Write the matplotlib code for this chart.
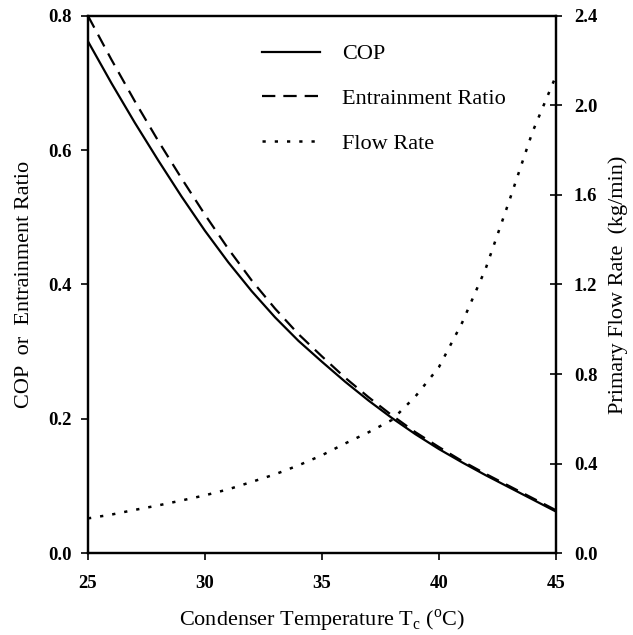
import matplotlib
matplotlib.use('Agg')
import matplotlib.pyplot as plt
from matplotlib.lines import Line2D

plt.rcParams['font.family'] = ['Liberation Serif', 'DejaVu Serif']
plt.rcParams['mathtext.fontset'] = 'custom'
plt.rcParams['mathtext.rm'] = 'Liberation Serif'

# condenser temperature, deg C
t_cond = [25, 26, 27, 28, 29, 30, 31, 32, 33, 34, 35,
          36, 37, 38, 39, 40, 41, 42, 43, 44, 45]

cop = [0.762, 0.700, 0.641, 0.585, 0.531, 0.480, 0.433, 0.390, 0.351, 0.316, 0.285,
       0.255, 0.227, 0.201, 0.177, 0.155, 0.135, 0.116, 0.098, 0.080, 0.062]

entrainment = [0.800, 0.735, 0.673, 0.614, 0.558, 0.504, 0.453, 0.406, 0.364, 0.326, 0.293,
               0.261, 0.232, 0.205, 0.180, 0.158, 0.137, 0.118, 0.100, 0.082, 0.064]

# primary flow rate, kg/min
flow_rate = [0.155, 0.172, 0.193, 0.213, 0.235, 0.258, 0.285, 0.318, 0.352, 0.392, 0.437,
             0.490, 0.540, 0.595, 0.700, 0.830, 1.030, 1.270, 1.570, 1.880, 2.130]

x_ticks = [25, 30, 35, 40, 45]
left_ticks = [0.0, 0.2, 0.4, 0.6, 0.8]
right_ticks = [0.0, 0.4, 0.8, 1.2, 1.6, 2.0, 2.4]

solid = '-'
dashed = (0, (6.0, 3.6))
dotted = (0, (1.3, 3.6))

fig = plt.figure(figsize=(6.33, 6.35), dpi=100)
ax = fig.add_axes([0.139, 0.129, 0.739, 0.846])
ax2 = ax.twinx()

lw = 1.6
ax.plot(t_cond, cop, color='black', lw=lw, ls=solid)
ax.plot(t_cond, entrainment, color='black', lw=lw, ls=dashed)
ax2.plot(t_cond, flow_rate, color='black', lw=1.8, ls=dotted)

ax.set_xlim(25, 45)
ax.set_ylim(0, 0.8)
ax2.set_ylim(0, 2.4)

ax.set_xticks(x_ticks)
ax.set_yticks(left_ticks)
ax.set_yticklabels(['%.1f' % v for v in left_ticks])
ax2.set_yticks(right_ticks)
ax2.set_yticklabels(['%.1f' % v for v in right_ticks])

for a in (ax, ax2):
    for s in a.spines.values():
        s.set_linewidth(1.6)
ax.tick_params(axis='both', direction='out', length=5, width=1.2, labelsize=13.5)
ax.tick_params(axis='y', pad=7)
ax.tick_params(axis='x', pad=11)
ax2.tick_params(axis='y', direction='inout', length=8, width=1.2, labelsize=13.5, pad=9)
for lab in ax.get_xticklabels() + ax.get_yticklabels() + ax2.get_yticklabels():
    lab.set_fontweight('bold')

ax.set_xlabel('Condenser Temperature T$_\\mathregular{c}$ ($^\\mathregular{o}$C)', fontsize=16, labelpad=11)
ax.set_ylabel('COP  or  Entrainment Ratio', fontsize=16, labelpad=10)
ax2.set_ylabel('Primary Flow Rate  (kg/min)', fontsize=16, labelpad=8)

handles = [
    Line2D([], [], color='black', lw=lw, ls=solid),
    Line2D([], [], color='black', lw=lw, ls=dashed),
    Line2D([], [], color='black', lw=1.8, ls=dotted),
]
ax.legend(handles, ['COP', 'Entrainment Ratio', 'Flow Rate'],
          loc='upper left', bbox_to_anchor=(0.33, 0.985), frameon=False,
          fontsize=16, handlelength=2.6, handletextpad=1.0, labelspacing=1.08)

plt.savefig('out.png', dpi=100)
